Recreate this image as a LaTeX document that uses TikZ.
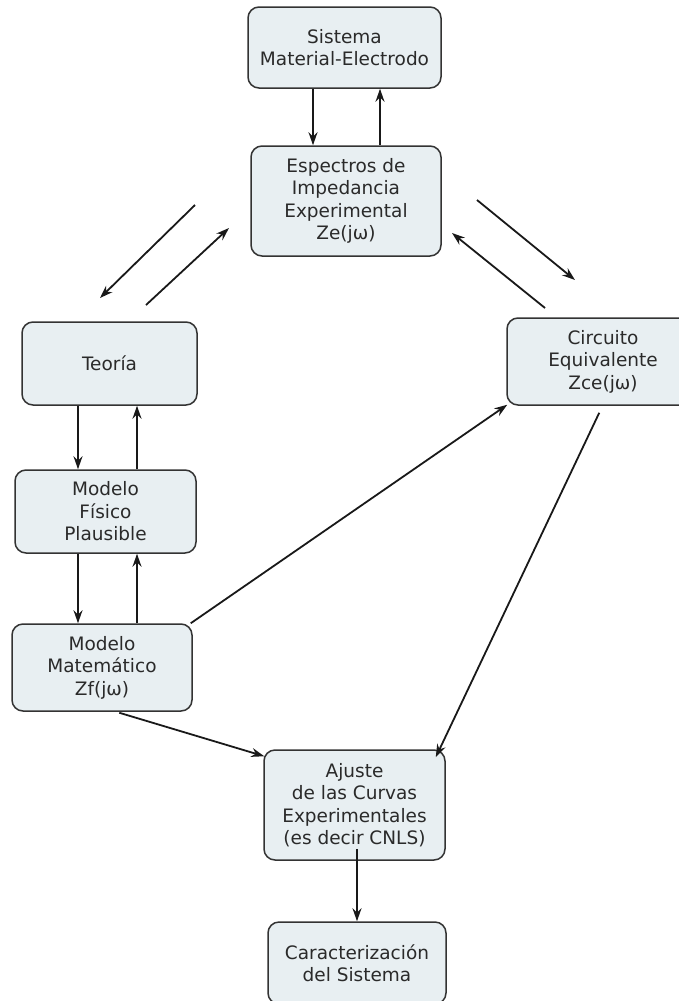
\documentclass[tikz,border=0pt]{standalone}
\usepackage{fontspec}
\setmainfont{DejaVu Sans}
\usetikzlibrary{arrows.meta,calc}
\definecolor{boxfill}{HTML}{E8EFF2}
\definecolor{boxline}{HTML}{333333}
\definecolor{txt}{HTML}{2A2A2A}
\tikzset{
  box/.style={draw=boxline, fill=boxfill, line width=1.5pt, rounded corners=11pt,
    align=center, inner sep=0pt, text=txt, font=\fontsize{18.5}{22.5}\selectfont},
  arr/.style={line width=1.8pt, draw=black!90, -{Stealth[length=13pt,width=9pt]}}
}
\begin{document}
\begin{tikzpicture}[x=1pt,y=-1pt]
\useasboundingbox (0,0) rectangle (678,1001);
\node[box, minimum width=193pt, minimum height=81pt] (sis) at (344.5,47.5) {Sistema\\Material-Electrodo};
\node[box, minimum width=190pt, minimum height=110pt] (esp) at (346,201) {Espectros de\\Impedancia\\Experimental\\Ze(jω)};
\node[box, minimum width=175pt, minimum height=83pt] (teo) at (109.5,363.5) {Teoría};
\node[box, minimum width=192pt, minimum height=87pt] (cir) at (603,361.5) {Circuito\\Equivalente\\Zce(jω)};
\node[box, minimum width=181pt, minimum height=83pt] (fis) at (105.5,511.5) {Modelo\\Físico\\Plausible};
\node[box, minimum width=180pt, minimum height=87pt] (mat) at (102,667.5) {Modelo\\Matemático\\Zf(jω)};
\node[box, minimum width=181pt, minimum height=110pt] (aju) at (354.5,805) {Ajuste\\de las Curvas\\Experimentales\\(es decir CNLS)};
\node[box, minimum width=178pt, minimum height=82pt] (car) at (357,963) {Caracterización\\del Sistema};

% Sistema <-> Espectros
\coordinate (xa) at (313,0);
\coordinate (xb) at (380,0);
\draw[arr] (sis.south -| xa) -- (esp.north -| xa);
\draw[arr] (esp.north -| xb) -- (sis.south -| xb);

% Teoria <-> Espectros (free diagonal arrows)
\coordinate (d1s) at (195,205);
\coordinate (d1e) at (100,298);
\coordinate (d2s) at (146,305);
\coordinate (d2e) at (229,228);
\draw[arr] (d1s) -- (d1e);
\draw[arr] (d2s) -- (d2e);

% Espectros <-> Circuito
\coordinate (d3s) at (477,200);
\coordinate (d3e) at (575,280);
\coordinate (d4s) at (545,308);
\coordinate (d4e) at (452,233);
\draw[arr] (d3s) -- (d3e);
\draw[arr] (d4s) -- (d4e);

% Teoria <-> Fisico <-> Matematico
\coordinate (xc) at (78,0);
\coordinate (xd) at (137,0);
\draw[arr] (teo.south -| xc) -- (fis.north -| xc);
\draw[arr] (fis.north -| xd) -- (teo.south -| xd);
\draw[arr] (fis.south -| xc) -- (mat.north -| xc);
\draw[arr] (mat.north -| xd) -- (fis.south -| xd);

% Matematico -> Circuito
\draw[arr] ($(mat.north east)+(-2,0)$) -- ($(cir.south west)+(1,-1)$);
% Circuito -> Ajuste
\draw[arr] ($(cir.south west)+(93,7)$) -- ($(aju.north east)+(-10,8)$);
% Matematico -> Ajuste
\draw[arr] ($(mat.south west)+(108,1)$) -- ($(aju.north west)+(1,7)$);
% Ajuste -> Caracterizacion
\coordinate (xe) at (357,0);
\draw[arr] ($(aju.south -| xe)+(0,-12)$) -- (car.north -| xe);
\end{tikzpicture}
\end{document}
